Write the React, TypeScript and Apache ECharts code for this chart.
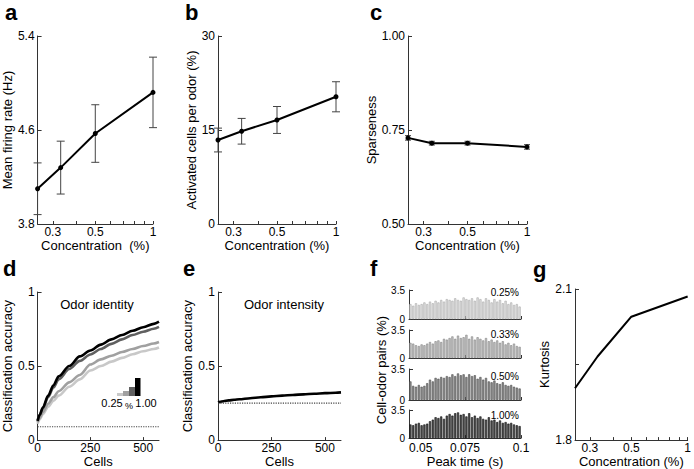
import React, { useEffect, useRef } from 'react';
import * as echarts from 'echarts';

// ---------- data ----------
const CONC = [0.25, 0.33, 0.5, 1];
const CONC_LABELS = [0.3, 0.5, 1];
const CONC_TICKS = [0.3, 0.4, 0.5, 0.6, 0.7, 0.8, 0.9, 1];

const FIRING_MEAN = [4.1, 4.28, 4.57, 4.92];
const FIRING_ERR = [0.22, 0.225, 0.245, 0.3];
const FIRING_TICKS = [3.8, 4.6, 5.4];

const ACTIVE_MEAN = [13.4, 14.8, 16.6, 20.3];
const ACTIVE_ERR = [1.9, 2.05, 2.15, 2.4];
const ACTIVE_TICKS = [0, 15, 30];

const SPARSE_MEAN = [0.729, 0.715, 0.715, 0.705];
const SPARSE_ERR = [0.006, 0.005, 0.005, 0.006];
const SPARSE_TICKS = [0.5, 0.75, 1.0];

const KURTOSIS = [1.903, 1.966, 2.045, 2.085];
const KURT_TICKS = [1.8, 1.95, 2.1];
const KURT_LABELS = [1.8, 2.1];

const CELLS = [0, 10, 25, 50, 75, 100, 150, 200, 250, 300, 350, 400, 450, 500, 550, 575];
const CELLS_MAX = 575;
const CELLS_LABELS = [0, 250, 500];
const ACC_TICKS = [0, 0.5, 1];
const ID_025 = [0.11, 0.14, 0.175, 0.225, 0.265, 0.3, 0.36, 0.41, 0.47, 0.5, 0.53, 0.555, 0.58, 0.6, 0.615, 0.625];
const ID_033 = [0.12, 0.15, 0.19, 0.245, 0.29, 0.33, 0.39, 0.44, 0.51, 0.545, 0.57, 0.595, 0.615, 0.635, 0.652, 0.662];
const ID_050 = [0.13, 0.17, 0.215, 0.29, 0.355, 0.41, 0.48, 0.535, 0.578, 0.615, 0.65, 0.68, 0.71, 0.732, 0.752, 0.765];
const ID_100 = [0.13, 0.17, 0.22, 0.3, 0.37, 0.43, 0.5, 0.565, 0.605, 0.645, 0.68, 0.71, 0.738, 0.762, 0.785, 0.8];
const INTENSITY = [0.255, 0.258, 0.262, 0.268, 0.272, 0.276, 0.283, 0.289, 0.295, 0.3, 0.305, 0.309, 0.313, 0.317, 0.32, 0.322];
const CHANCE_ID = 0.09;
const CHANCE_INT = 0.25;

const PEAK_BIN_START = 0.05;
const PEAK_BIN_WIDTH = 0.00125;
const PEAK_LABELS = [0.05, 0.075, 0.1];
const PAIRS_TICKS = [0, 3.5];
const PEAK_025 = [1.8,1.6,1.9,1.7,1.8,2.0,1.8,2.1,1.9,2.2,2.0,2.3,2.1,2.4,2.3,2.2,2.5,2.3,2.2,2.6,2.4,2.3,2.5,2.2,2.6,2.4,2.1,2.5,2.3,2.0,2.4,2.1,2.3,1.9,2.2,1.8,2.0,1.7,1.8,1.5];
const PEAK_033 = [1.9,1.8,1.6,1.5,1.7,1.6,1.8,2.0,1.8,2.1,2.2,2.0,2.4,2.3,2.5,2.7,2.4,2.8,2.5,2.6,2.9,2.4,2.7,2.3,2.6,2.4,2.2,2.5,2.1,2.3,2.0,2.2,1.9,2.1,1.7,1.9,1.6,1.8,1.5,1.4];
const PEAK_050 = [2.1,1.6,1.5,1.7,1.5,1.6,1.9,2.3,2.1,2.5,2.4,2.6,2.5,2.7,2.6,2.9,2.7,3.0,2.8,2.9,2.6,2.9,2.7,2.8,2.4,2.6,2.3,2.5,2.1,2.0,2.2,1.9,1.8,2.0,1.7,1.6,1.7,1.5,1.4,1.3];
const PEAK_100 = [1.7,1.6,1.8,1.9,1.6,1.7,1.8,2.1,2.3,2.6,2.5,2.7,2.4,2.8,3.0,2.8,3.1,3.2,2.9,3.0,2.7,3.1,2.6,2.8,2.5,2.7,2.4,2.3,2.6,2.2,2.3,2.0,2.2,1.9,2.0,1.8,1.9,1.7,1.6,1.5];
const PEAK_NAMES = ['0.25%', '0.33%', '0.50%', '1.00%'];

// ---------- styling ----------
const FONT = "'Liberation Sans', Arial, Helvetica, sans-serif";
const AX = '#333';
const CONC_COLORS = ['#c8c8c8', '#a0a0a0', '#606060', '#000000'];
const BAR_FILL = ['#e0e0e0', '#c2c2c2', '#8c8c8c', '#505050'];
const BAR_EDGE = ['#aaaaaa', '#858585', '#505050', '#111111'];

function xAx(gridIndex: number, o: any) {
  return {
    gridIndex,
    type: o.type || 'value',
    logBase: o.type === 'log' ? 10 : undefined,
    min: o.min,
    max: o.max,
    name: o.name,
    nameLocation: 'middle',
    nameGap: o.nameGap,
    nameTextStyle: { fontSize: 13, fontFamily: FONT, color: '#000' },
    axisLine: { show: true, onZero: false, lineStyle: { color: AX, width: 1 } },
    axisTick: { show: true, inside: true, length: 3, customValues: o.ticks, lineStyle: { color: AX, width: 1 } },
    axisLabel: {
      show: o.showLabels !== false,
      customValues: o.labels,
      formatter: o.fmt || ((v: number) => String(v)),
      fontSize: o.fontSize || 12,
      fontFamily: FONT,
      color: '#000',
      margin: o.margin ?? 2,
      alignMinLabel: o.alignMin,
    },
    splitLine: { show: false },
  };
}

function yAx(gridIndex: number, o: any) {
  return {
    gridIndex,
    type: 'value',
    min: o.min,
    max: o.max,
    name: o.name,
    nameLocation: 'middle',
    nameGap: o.nameGap,
    nameRotate: 90,
    nameTextStyle: { fontSize: 13, fontFamily: FONT, color: '#000' },
    axisLine: { show: true, onZero: false, lineStyle: { color: AX, width: 1 } },
    axisTick: { show: true, inside: true, length: 4, customValues: o.ticks, lineStyle: { color: AX, width: 1 } },
    axisLabel: {
      show: true,
      customValues: o.labels || o.ticks,
      formatter: o.fmt || ((v: number) => String(v)),
      fontSize: o.fontSize || 12,
      fontFamily: FONT,
      color: '#000',
      margin: o.margin ?? 3,
    },
    splitLine: { show: false },
  };
}

function errorBars(idx: number, mean: number[], err: number[], cap: number) {
  return {
    type: 'custom',
    xAxisIndex: idx,
    yAxisIndex: idx,
    clip: false,
    z: 2,
    encode: { x: 0, y: [1, 2] },
    data: CONC.map((c, i) => [c, mean[i] - err[i], mean[i] + err[i]]),
    renderItem: (params: any, api: any) => {
      const x = api.value(0);
      const lo = api.coord([x, api.value(1)]);
      const hi = api.coord([x, api.value(2)]);
      const st = { stroke: '#444', lineWidth: 1 };
      return {
        type: 'group',
        children: [
          { type: 'line', shape: { x1: hi[0], y1: hi[1], x2: lo[0], y2: lo[1] }, style: st },
          { type: 'line', shape: { x1: hi[0] - cap, y1: hi[1], x2: hi[0] + cap, y2: hi[1] }, style: st },
          { type: 'line', shape: { x1: lo[0] - cap, y1: lo[1], x2: lo[0] + cap, y2: lo[1] }, style: st },
        ],
      };
    },
  };
}

function meanLine(idx: number, mean: number[]) {
  return {
    type: 'line',
    xAxisIndex: idx,
    yAxisIndex: idx,
    clip: false,
    z: 3,
    data: CONC.map((c, i) => [c, mean[i]]),
    symbol: 'circle',
    symbolSize: 5,
    itemStyle: { color: '#000' },
    lineStyle: { color: '#000', width: 2 },
  };
}

function txt(x: number, y: number, text: string, size: number, opts: any = {}) {
  return {
    type: 'text',
    x,
    y,
    rotation: opts.rotation || 0,
    style: {
      text,
      fill: '#000',
      font: `${opts.bold ? 'bold ' : ''}${size}px ${FONT}`,
      align: opts.align || 'left',
      textAlign: opts.align || 'left',
      verticalAlign: 'middle',
      textVerticalAlign: 'middle',
    },
  };
}

const concFmt = (v: number) => String(v);

export default function App() {
  const ref = useRef<HTMLDivElement>(null);

  useEffect(() => {
    if (!ref.current) return;
    const chart = echarts.init(ref.current, null, { renderer: 'svg' });

    const grid = [
      { left: 35, top: 36, width: 118, height: 188 },
      { left: 218, top: 36, width: 118, height: 188 },
      { left: 408, top: 36, width: 119, height: 188 },
      { left: 36, top: 292, width: 123, height: 150 },
      { left: 218, top: 292, width: 123, height: 150 },
      { left: 409, top: 290, width: 112, height: 29 },
      { left: 409, top: 330, width: 112, height: 28 },
      { left: 409, top: 369, width: 112, height: 31 },
      { left: 409, top: 410, width: 112, height: 31 },
      { left: 575, top: 289, width: 117, height: 152 },
    ];

    const concAxis = (i: number, name: string) =>
      xAx(i, { type: 'log', min: 0.25, max: 1, name, nameGap: 11, ticks: CONC_TICKS, labels: CONC_LABELS, fmt: concFmt });

    const xAxis: any[] = [
      concAxis(0, 'Concentration  (%)'),
      concAxis(1, 'Concentration (%)'),
      concAxis(2, 'Concentration (%)'),
      xAx(3, { min: 0, max: CELLS_MAX, name: 'Cells', nameGap: 10, ticks: CELLS_LABELS, labels: CELLS_LABELS }),
      xAx(4, { min: 0, max: CELLS_MAX, name: 'Cells', nameGap: 10, ticks: CELLS_LABELS, labels: CELLS_LABELS }),
      ...[5, 6, 7, 8].map((g) =>
        xAx(g, {
          min: 0.05,
          max: 0.1,
          name: g === 8 ? 'Peak time (s)' : undefined,
          nameGap: 13,
          ticks: PEAK_LABELS,
          labels: PEAK_LABELS,
          showLabels: g === 8,
          margin: 4,
          alignMin: 'left',
        })
      ),
      xAx(9, { type: 'log', min: 0.25, max: 1, name: 'Concentration (%)', nameGap: 9, ticks: CONC_TICKS, labels: CONC_LABELS, fmt: concFmt }),
    ];

    const yAxis: any[] = [
      yAx(0, { min: 3.8, max: 5.4, name: 'Mean firing rate (Hz)', nameGap: 16, ticks: FIRING_TICKS, fmt: (v: number) => v.toFixed(1) }),
      yAx(1, { min: 0, max: 30, name: 'Activated cells per odor (%)', nameGap: 15, ticks: ACTIVE_TICKS }),
      yAx(2, { min: 0.5, max: 1, name: 'Sparseness', nameGap: 27, ticks: SPARSE_TICKS, fmt: (v: number) => v.toFixed(2) }),
      yAx(3, { min: 0, max: 1, name: 'Classification accuracy', nameGap: 20, ticks: ACC_TICKS }),
      yAx(4, { min: 0, max: 1, name: 'Classification accuracy', nameGap: 23, ticks: ACC_TICKS }),
      ...[5, 6, 7, 8].map((g) => yAx(g, { min: 0, max: 3.5, ticks: PAIRS_TICKS, margin: 4, fontSize: 10 })),
      yAx(9, { min: 1.8, max: 2.1, name: 'Kurtosis', nameGap: 12, ticks: KURT_TICKS, labels: KURT_LABELS, fmt: (v: number) => v.toFixed(1) }),
    ];

    const idSeries = [ID_025, ID_033, ID_050, ID_100].map((arr, k) => ({
      type: 'line',
      xAxisIndex: 3,
      yAxisIndex: 3,
      data: CELLS.map((c, i) => [c, arr[i]]),
      showSymbol: false,
      smooth: 0.3,
      smoothMonotone: 'x',
      lineStyle: { color: CONC_COLORS[k], width: 2.6 },
      z: 2 + k,
    }));

    const peakSeries = [PEAK_025, PEAK_033, PEAK_050, PEAK_100].map((arr, k) => ({
      type: 'bar',
      xAxisIndex: 5 + k,
      yAxisIndex: 5 + k,
      barWidth: 2.2,
      data: arr.map((v, i) => [PEAK_BIN_START + (i + 0.5) * PEAK_BIN_WIDTH, v]),
      itemStyle: { color: BAR_FILL[k], borderColor: BAR_EDGE[k], borderWidth: 0.6 },
    }));

    const series: any[] = [
      errorBars(0, FIRING_MEAN, FIRING_ERR, 4),
      meanLine(0, FIRING_MEAN),
      errorBars(1, ACTIVE_MEAN, ACTIVE_ERR, 4),
      meanLine(1, ACTIVE_MEAN),
      errorBars(2, SPARSE_MEAN, SPARSE_ERR, 3),
      meanLine(2, SPARSE_MEAN),
      ...idSeries,
      {
        type: 'line',
        xAxisIndex: 3,
        yAxisIndex: 3,
        data: [[0, CHANCE_ID], [CELLS_MAX, CHANCE_ID]],
        showSymbol: false,
        lineStyle: { color: '#444', width: 1.2, type: 'dotted' },
      },
      {
        type: 'line',
        xAxisIndex: 4,
        yAxisIndex: 4,
        data: CELLS.map((c, i) => [c, INTENSITY[i]]),
        showSymbol: false,
        smooth: 0.3,
        smoothMonotone: 'x',
        lineStyle: { color: '#000', width: 2.6 },
        z: 3,
      },
      {
        type: 'line',
        xAxisIndex: 4,
        yAxisIndex: 4,
        data: [[0, CHANCE_INT], [CELLS_MAX, CHANCE_INT]],
        showSymbol: false,
        lineStyle: { color: '#444', width: 1.2, type: 'dotted' },
      },
      ...peakSeries,
      {
        type: 'line',
        xAxisIndex: 9,
        yAxisIndex: 9,
        data: CONC.map((c, i) => [c, KURTOSIS[i]]),
        showSymbol: false,
        clip: false,
        lineStyle: { color: '#000', width: 2 },
      },
    ];

    const graphic: any[] = [
      txt(5, 12, 'a', 22, { bold: true }),
      txt(185, 12, 'b', 22, { bold: true }),
      txt(370, 12, 'c', 22, { bold: true }),
      txt(3, 268, 'd', 22, { bold: true }),
      txt(183, 268, 'e', 22, { bold: true }),
      txt(370, 268, 'f', 22, { bold: true }),
      txt(533, 269, 'g', 22, { bold: true }),
      txt(97, 304, 'Odor identity', 13, { align: 'center' }),
      txt(284, 304, 'Odor intensity', 13, { align: 'center' }),
      txt(381, 370, 'Cell-odor pairs (%)', 13, { align: 'center', rotation: Math.PI / 2 }),
      txt(519, 292, PEAK_NAMES[0], 10, { align: 'right' }),
      txt(519, 334, PEAK_NAMES[1], 10, { align: 'right' }),
      txt(519, 376, PEAK_NAMES[2], 10, { align: 'right' }),
      txt(519, 415, PEAK_NAMES[3], 10, { align: 'right' }),
      { type: 'rect', shape: { x: 117, y: 393, width: 6, height: 3 }, style: { fill: CONC_COLORS[0] } },
      { type: 'rect', shape: { x: 123, y: 391, width: 6, height: 5 }, style: { fill: CONC_COLORS[1] } },
      { type: 'rect', shape: { x: 129, y: 387, width: 6, height: 9 }, style: { fill: CONC_COLORS[2] } },
      { type: 'rect', shape: { x: 135, y: 378, width: 5.5, height: 18 }, style: { fill: CONC_COLORS[3] } },
      txt(112, 403, '0.25', 11, { align: 'center' }),
      txt(129, 406, '%', 9, { align: 'center' }),
      txt(146, 403, '1.00', 11, { align: 'center' }),
    ];

    chart.setOption({
      animation: false,
      backgroundColor: '#fff',
      textStyle: { fontFamily: FONT },
      grid,
      xAxis,
      yAxis,
      series,
      graphic,
    });

    return () => chart.dispose();
  }, []);

  return <div ref={ref} style={{ position: 'fixed', left: 0, top: 0, width: 694, height: 469 }} />;
}
